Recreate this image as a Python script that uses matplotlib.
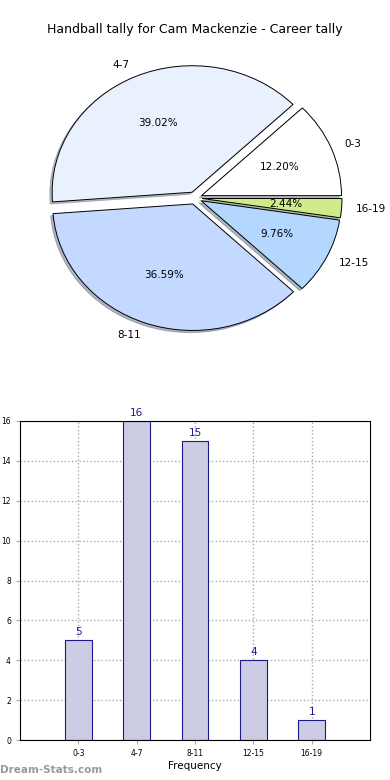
import matplotlib
matplotlib.use("Agg")
import matplotlib.pyplot as plt

## data
bins = ["0-3", "4-7", "8-11", "12-15", "16-19"]
tally = [5, 16, 15, 4, 1]
pie_colors = ["#ffffff", "#e9f1ff", "#c4d9ff", "#b3d7ff", "#cfeb8a"]

fig = plt.figure(figsize=(3.9, 7.8), dpi=100)

## pie
ax1 = fig.add_axes([20/390, 1 - 365/780, 350/390, 334/780])
wedges, texts, autotexts = ax1.pie(tally, labels=bins, colors=pie_colors,
                                   explode=[0.05]*5, autopct="%.2f%%",
                                   shadow={"ox": -0.012, "oy": -0.012, "shade": 0.5},
                                   startangle=0,
                                   pctdistance=0.6, labeldistance=1.1,
                                   wedgeprops=dict(edgecolor="black", linewidth=0.7),
                                   textprops=dict(fontsize=7.5))
ax1.set_aspect("auto")
ax1.set_xlim(-1.25, 1.25)
ax1.set_ylim(-1.32, 1.32)
fig.text(0.5, 1 - 30/780, "Handball tally for Cam Mackenzie - Career tally",
         ha="center", va="center", fontsize=9)

## bars
ax2 = fig.add_axes([20/390, 1 - 740/780, 350/390, 319/780])
x = range(len(bins))
ax2.bar(x, tally, width=0.46, color="#ccccE4", edgecolor="#1a1a8c", linewidth=0.8, zorder=2)
for i, v in enumerate(tally):
    ax2.text(i, v + 0.15, str(v), ha="center", va="bottom", color="#1a1a99", fontsize=7.5)
ax2.set_xlim(-1, 5)
ax2.set_ylim(0, 16)
ax2.set_xticks(list(x))
ax2.set_xticklabels(bins)
ax2.set_yticks(range(0, 17, 2))
ax2.tick_params(labelsize=5.5, length=3, color="#aaaaaa")
ax2.grid(True, linestyle=":", color="#aaaaaa", linewidth=1)
ax2.set_axisbelow(True)
ax2.set_xlabel("Frequency", fontsize=7.5, labelpad=2)
ax2.set_ylabel("Number of Tallies", fontsize=7.5)
ax2.yaxis.set_label_coords(-0.055, 0.5)

fig.text(0.0, 1 - 770/780, "Dream-Stats.com", color="#999999", fontsize=7.5,
         ha="left", va="center", fontweight="bold")

plt.savefig("out.png", dpi=100)
